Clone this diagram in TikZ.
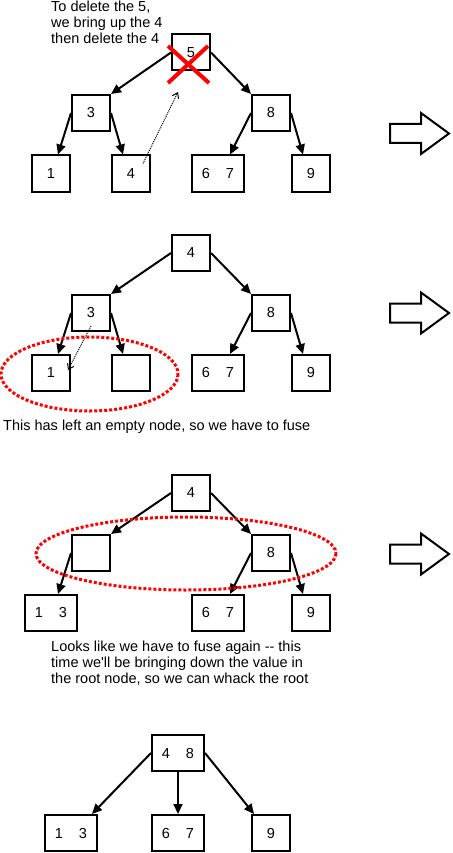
\documentclass[tikz,border=0pt]{standalone}
\usepackage{fontspec}
\setmainfont{Liberation Sans}[Ligatures=TeXOff]
\usetikzlibrary{arrows.meta,calc}

\begin{document}
\begin{tikzpicture}[x=1pt, y=-1pt,
  every node/.style={font=\fontsize{14.5}{16}\selectfont},
  key/.style={draw, line width=2pt, minimum width=38pt, minimum height=36pt, inner sep=0pt},
  wide/.style={key, minimum width=52pt},
  link/.style={line width=2pt, -{Triangle[length=10pt,width=9pt]}},
  move/.style={densely dotted, line width=1pt, -{Straight Barb[length=5pt,width=7pt]}},
  fuse/.style={red, line width=3pt, dash pattern=on 3pt off 2pt},
  note/.style={inner sep=0pt, align=left}]
  \useasboundingbox (0,0) rectangle (452,853);

  % step one: delete the 5
  \node[note, anchor=north west] (say1) at (51,1) {To delete the 5,\\we bring up the 4\\then delete the 4};
  \node[key] (root1) at (191,52.5) {5};
  \node[key] (three1) at (91,113) {3};
  \node[key] (eight1) at (271,113) {8};
  \node[key] (one1) at (51,173.5) {1};
  \node[key] (four1) at (131,173.5) {4};
  \node[wide] (sixseven1) at (218,173.5) {6\hspace{16pt}7};
  \node[key] (nine1) at (311,173.5) {9};
  \draw[link] (root1.west) -- (three1.north east);
  \draw[link] (root1.east) -- (eight1.north west);
  \draw[link] (three1.west) -- ([xshift=7pt]one1.north);
  \draw[link] (three1.east) -- ([xshift=-8pt]four1.north);
  \draw[link] (eight1.west) -- ([xshift=12pt]sixseven1.north);
  \draw[link] (eight1.east) -- ([xshift=-8pt]nine1.north);
  \draw[red, line width=4pt] ($(root1)+(-23,-6.5)$) -- ($(root1)+(18,30.5)$)
    ($(root1)+(17,-6.5)$) -- ($(root1)+(-23,30.5)$);
  \coordinate (up4) at (178,92);
  \draw[move] ([xshift=12pt,yshift=10pt]four1.center) -- (up4);

  % step two: empty leaf
  \node[key] (root2) at (191,253) {4};
  \node[key] (three2) at (91,313) {3};
  \node[key] (eight2) at (271,313) {8};
  \node[key] (one2) at (51,373) {1};
  \node[key] (empty2) at (131,373) {};
  \node[wide] (sixseven2) at (218,373) {6\hspace{16pt}7};
  \node[key] (nine2) at (311,373) {9};
  \draw[link] (root2.west) -- (three2.north east);
  \draw[link] (root2.east) -- (eight2.north west);
  \draw[link] (three2.west) -- ([xshift=7pt]one2.north);
  \draw[link] (three2.east) -- ([xshift=-8pt]empty2.north);
  \draw[link] (eight2.west) -- ([xshift=12pt]sixseven2.north);
  \draw[link] (eight2.east) -- ([xshift=-8pt]nine2.north);
  \coordinate (down3) at (68,370);
  \draw[move] ([yshift=-13pt]three2.center) -- (down3);
  \draw[fuse] (89.5,374) ellipse [x radius=88.5, y radius=37];
  \node[note, anchor=west] (say2) at (3,427) {This has left an empty node, so we have to fuse};

  % step three: empty inner node
  \node[key] (root3) at (191,493) {4};
  \node[key] (empty3) at (91,553) {};
  \node[key] (eight3) at (271,553) {8};
  \node[wide] (onethree3) at (51,613) {1\hspace{16pt}3};
  \node[wide] (sixseven3) at (218,613) {6\hspace{16pt}7};
  \node[key] (nine3) at (311,613) {9};
  \draw[link] (root3.west) -- (empty3.north east);
  \draw[link] (root3.east) -- (eight3.north west);
  \draw[link] (empty3.west) -- ([xshift=7pt]onethree3.north);
  \draw[link] (eight3.west) -- ([xshift=12pt]sixseven3.north);
  \draw[link] (eight3.east) -- ([xshift=-8pt]nine3.north);
  \draw[fuse] (186,553.5) ellipse [x radius=150, y radius=36.5];
  \node[note, anchor=north west] (say3) at (51,641) {Looks like we have to fuse again -- this\\time we'll be bringing down the value in\\the root node, so we can whack the root};

  % step four: result
  \node[wide] (root4) at (178,753) {4\hspace{16pt}8};
  \node[wide] (onethree4) at (71,833) {1\hspace{16pt}3};
  \node[wide] (sixseven4) at (178,833) {6\hspace{16pt}7};
  \node[key] (nine4) at (271,833) {9};
  \draw[link] (root4.west) -- ([xshift=-6pt]onethree4.north east);
  \draw[link] (root4.south) -- (sixseven4.north);
  \draw[link] (root4.east) -- ([xshift=3pt]nine4.north west);

  % big arrows between the steps
  \foreach \y in {133.5,313,554}
    \draw[line width=2pt] (390,\y-9.5) -- (421,\y-9.5) -- (421,\y-20.5) -- (449,\y)
      -- (421,\y+20.5) -- (421,\y+9.5) -- (390,\y+9.5) -- cycle;
\end{tikzpicture}
\end{document}
